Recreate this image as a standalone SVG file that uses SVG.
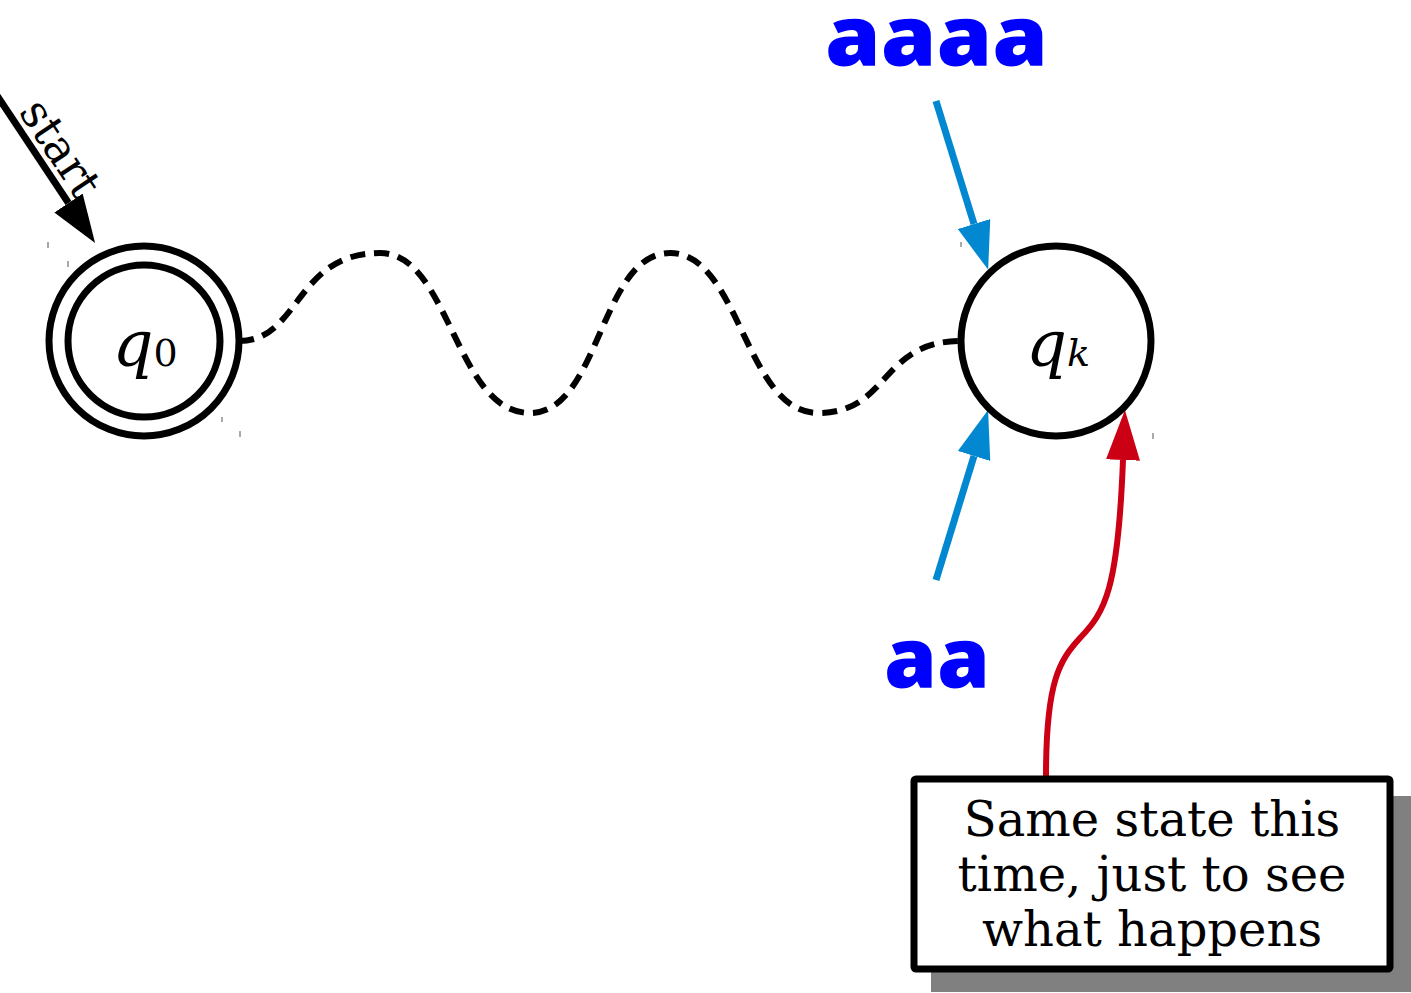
<svg xmlns="http://www.w3.org/2000/svg" width="1411" height="993" viewBox="0 0 1411 993">
<style>
.state{fill:#fff;stroke:#000;stroke-width:7}
.lbl{font-family:"DejaVu Serif","Liberation Serif",serif;fill:#000}
.big{font-family:"Open Sans",Lato,sans-serif;font-weight:800;fill:#0000ff;font-size:84px}
.tick{stroke:#555;stroke-width:1}
</style>
<defs>
<marker id="ahBlack" markerUnits="userSpaceOnUse" markerWidth="48" markerHeight="34" viewBox="0 -17 48 34" refX="0" refY="0" orient="auto"><path d="M0,-17 L48,0 L0,17 z" fill="#000"/></marker>
<marker id="ahBlue" markerUnits="userSpaceOnUse" markerWidth="48" markerHeight="34" viewBox="0 -17 48 34" refX="0" refY="0" orient="auto"><path d="M0,-17 L48,0 L0,17 z" fill="#0288d1"/></marker>
<marker id="ahRed" markerUnits="userSpaceOnUse" markerWidth="50" markerHeight="34" viewBox="0 -17 50 34" refX="0" refY="0" orient="auto"><path d="M0,-17 L50,0 L0,17 z" fill="#cc0014"/></marker>
</defs>
<rect width="1411" height="993" fill="#fff"/>
<g id="connectors">
<path d="M-4,94 L68.5,203" stroke="#000" stroke-width="7" fill="none" marker-end="url(#ahBlack)"/>
<path d="M239,341 C300,341 295,253 380,253 C450,253 455,413 530,413 C600,413 600,253 670,253 C740,253 745,413 818,413 C890,413 880,341 961,341" stroke="#000" stroke-width="6" fill="none" stroke-dasharray="15,9"/>
<path d="M936,101 L974,224" stroke="#0288d1" stroke-width="7" fill="none" marker-end="url(#ahBlue)"/>
<path d="M936,580 L974,456" stroke="#0288d1" stroke-width="7" fill="none" marker-end="url(#ahBlue)"/>
<path d="M1046,776 C1046,680 1060,660 1080,638 C1105,612 1118,590 1123,460" stroke="#cc0014" stroke-width="6" fill="none" marker-end="url(#ahRed)"/>
</g>
<g id="start-label">
<text class="lbl" font-size="45" transform="translate(18,112) rotate(56.4)">start</text>
</g>
<g id="q0">
<circle class="state" cx="144" cy="341" r="95"/>
<circle class="state" cx="144" cy="341" r="76"/>
<text class="lbl" x="145" y="366" font-size="64" text-anchor="middle"><tspan font-style="italic">q</tspan><tspan font-size="38">0</tspan></text>
</g>
<g id="qk">
<circle class="state" cx="1056" cy="341" r="95"/>
<text class="lbl" x="1058" y="366" font-size="64" text-anchor="middle" font-style="italic">q<tspan font-size="38">k</tspan></text>
</g>
<g id="label-aaaa"><text class="big" x="825" y="65" textLength="223" lengthAdjust="spacingAndGlyphs">aaaa</text></g>
<g id="label-aa"><text class="big" x="884" y="687" textLength="106" lengthAdjust="spacingAndGlyphs">aa</text></g>
<g id="note">
<rect x="931" y="796" width="482" height="196" fill="#808080"/>
<rect x="914" y="779" width="476" height="190" rx="2" fill="#fff" stroke="#000" stroke-width="7"/>
<text class="lbl" font-size="48" text-anchor="middle"><tspan x="1152" y="836">Same state this</tspan><tspan x="1152" y="891">time, just to see</tspan><tspan x="1152" y="946">what happens</tspan></text>
</g>
<g id="ticks">
<path class="tick" d="M48,242v6M68,261v6M222,417v5M240,431v6M961,242v5M1153,433v6"/>
</g>
</svg>
